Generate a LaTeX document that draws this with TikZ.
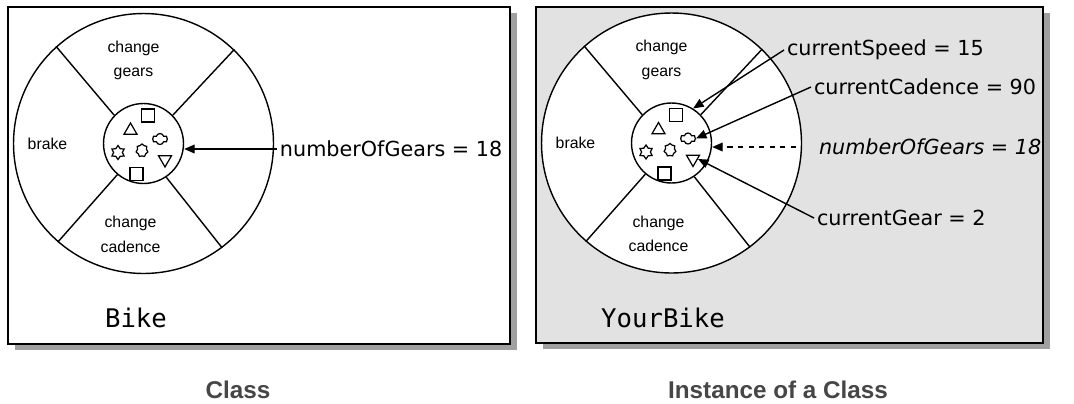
\documentclass[tikz,border=0pt]{standalone}
\usepackage{fontspec}
\setmainfont{DejaVu Sans}
\newfontfamily\wheelfont{Liberation Sans}
\newfontfamily\namefont{DejaVu Sans Mono}
\newfontfamily\captionfont{Liberation Sans}
\usetikzlibrary{shapes.geometric,shapes.symbols,shadows,arrows.meta}

\definecolor{panelgray}{RGB}{226,226,226}
\definecolor{shadowgray}{RGB}{160,160,160}
\definecolor{captiongray}{RGB}{70,70,70}

\tikzstyle{panel} = [rectangle,
draw=black,
line width=0.9pt,
drop shadow={shadow xshift=0.14cm, shadow yshift=-0.12cm, fill=shadowgray, opacity=1}]
\tikzstyle{wheel} = [circle, draw=black, fill=white, inner sep=0pt, line width=0.8pt]
\tikzstyle{part} = [draw=black, inner sep=0pt, line width=0.7pt]
\tikzstyle{method} = [font=\wheelfont\fontsize{9}{14}\selectfont, align=center, inner sep=0pt]
\tikzstyle{field} = [font=\fontsize{11.8}{14}\selectfont, anchor=west, inner sep=1.5pt]
\tikzstyle{link} = [line width=0.8pt, -{Triangle[length=6pt,width=5pt]}]

% one bike wheel: #1 = name prefix, drawn round (0,0)
\newcommand\bikewheel[1]{%
    \node (#1wheel) [wheel, minimum size=5.2cm] at (0,0) {};
    \node (#1core) [wheel, minimum size=1.6cm] at (0,0) {};
    \foreach \a/\b in {132/136, 46/44, 229/230, 307/304}
        \draw[line width=0.8pt] (#1core.\b) -- (#1wheel.\a);
    \node (#1gears) [method] at (-10,-83) {change\\gears};
    \node (#1brake) [method] at (-96,0) {brake};
    \node (#1cadence) [method] at (-13,91) {change\\cadence};
    % parts inside the core
    \node (#1sqa) [part, rectangle, minimum size=0.26cm] at (4.5,-28) {};
    \node (#1tri) [part, regular polygon, regular polygon sides=3, minimum size=0.3cm] at (-13,-13) {};
    \node (#1cloud) [part, cloud, cloud puffs=6, minimum width=0.3cm, minimum height=0.22cm, aspect=1.4] at (16.5,-4.5) {};
    \node (#1star) [part, star, star points=6, star point ratio=1.6, minimum size=0.28cm] at (-25.5,9) {};
    \node (#1blob) [part, cloud, cloud puffs=7, minimum width=0.24cm, minimum height=0.26cm] at (-1.5,7) {};
    \node (#1trib) [part, regular polygon, regular polygon sides=3, shape border rotate=180, minimum size=0.3cm] at (21.5,16) {};
    \node (#1sqb) [part, rectangle, minimum size=0.26cm] at (-7,30.5) {};
}

\begin{document}
\begin{tikzpicture}[x=0.02cm, y=-0.02cm]
    \useasboundingbox[fill=white] (0,0) rectangle (1074,403);
    %%%%%%%%%%%%%%%%%%%%%%%%%%%%%%%%%%%%%%%%
    % Class
    %%%%%%%%%%%%%%%%%%%%%%%%%%%%%%%%%%%%%%%%
    \node (classbox) [panel, fill=white, minimum width=10.04cm, minimum height=6.74cm] at (259,175.5) {};
    \begin{scope}[shift={(143.5,143.5)}]
        \bikewheel{b}
    \end{scope}
    \node (bnumgears) [field] at (277,149) {numberOfGears = 18};
    \node (bname) [font=\namefont\fontsize{14.6}{16}\selectfont] at (136,318) {Bike};
    \node (classcap) [font=\captionfont\bfseries\fontsize{13.8}{16}\selectfont, text=captiongray] at (238,390) {Class};
    \draw[link] (bnumgears.west) -- (bnumgears.west -| bcore.east);
    %%%%%%%%%%%%%%%%%%%%%%%%%%%%%%%%%%%%%%%%
    % Instance
    %%%%%%%%%%%%%%%%%%%%%%%%%%%%%%%%%%%%%%%%
    \node (instbox) [panel, fill=panelgray, minimum width=10.14cm, minimum height=6.72cm] at (789.5,175) {};
    \begin{scope}[shift={(671.5,143)}]
        \bikewheel{y}
    \end{scope}
    \node (yspeed) [field] at (784,50) {currentSpeed = 15};
    \node (ycadval) [field] at (811,87) {currentCadence = 90};
    \node (ynumgears) [field, font=\itshape\fontsize{11.8}{14}\selectfont] at (816,147) {numberOfGears = 18};
    \node (ygear) [field] at (814,218) {currentGear = 2};
    \node (yname) [font=\namefont\fontsize{14.6}{16}\selectfont] at (663,318) {YourBike};
    \node (instcap) [font=\captionfont\bfseries\fontsize{13.8}{16}\selectfont, text=captiongray] at (778,390) {Instance of a Class};
    \draw[link] (yspeed.west) -- (ycore.58);
    \draw[link] (ycadval.west) -- (ycloud.east);
    \draw[link, dashed, shorten <=0.4cm] (ynumgears.west) -- (ynumgears.west -| ycore.east);
    \draw[link] (ygear.west) -- (ytrib.east);
\end{tikzpicture}
\end{document}
